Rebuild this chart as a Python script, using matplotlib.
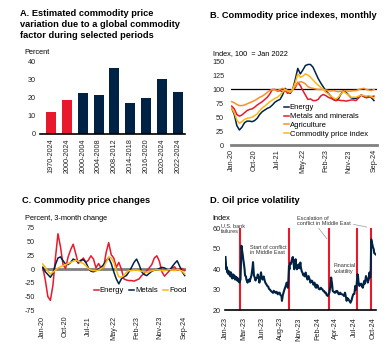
import matplotlib
matplotlib.use('Agg')
import matplotlib.pyplot as plt
import pandas as pd

plt.rcParams['font.family'] = ['Liberation Sans', 'DejaVu Sans']
plt.rcParams['axes.unicode_minus'] = False

NAVY = '#002345'
RED = '#E8192C'
ORANGE = '#F7902A'
YELLOW = '#FDB714'
GRAY = '#808080'

# Panel A: share of variation explained by global factor
periods = ['1970-2024', '2000-2024', '2000-2004', '2004-2008', '2008-2012',
           '2014-2018', '2016-2020', '2020-2024', '2022-2024']
global_share = [12.3, 18.9, 22.9, 21.5, 36.8, 17.4, 19.8, 30.4, 23.1]

# Panel B: monthly indexes, Jan-20 .. Sep-24 (100 = Jan 2022)
months = pd.date_range('2020-01-01', '2024-09-01', freq='MS')
energy_idx = [66, 55, 35, 27, 32, 40, 43, 43, 42, 44, 48, 55, 60, 63, 66, 68, 72, 77, 80,
              82, 90, 102, 98, 93, 100, 118, 138, 128, 135, 143, 145, 145, 140, 130, 120,
              112, 105, 98, 93, 88, 82, 80, 83, 92, 98, 95, 90, 85, 84, 84, 87, 90, 87,
              86, 88, 85, 80]
metals_idx = [70, 65, 55, 52, 54, 58, 62, 64, 65, 68, 72, 75, 78, 82, 86, 92, 100, 100,
              97, 98, 96, 99, 93, 95, 100, 103, 113, 107, 98, 90, 82, 83, 80, 80, 82, 88,
              91, 89, 86, 84, 82, 80, 81, 80, 80, 79, 80, 81, 81, 80, 85, 90, 88, 85, 86,
              87, 88]
agri_idx = [78, 76, 73, 71, 71, 72, 74, 76, 78, 80, 83, 86, 88, 91, 95, 98, 100, 99, 98,
            100, 102, 100, 98, 97, 100, 106, 112, 114, 113, 110, 105, 103, 102, 101, 100,
            100, 100, 99, 98, 97, 98, 97, 96, 97, 97, 98, 97, 97, 98, 98, 100, 101, 102,
            100, 99, 98, 100]
cpi_idx = [66, 58, 45, 39, 42, 46, 48, 49, 50, 53, 56, 62, 67, 70, 74, 78, 81, 84, 86,
           90, 95, 100, 97, 95, 100, 112, 128, 122, 124, 128, 126, 122, 117, 112, 108,
           104, 100, 95, 92, 88, 85, 83, 86, 92, 96, 93, 90, 86, 86, 86, 88, 90, 89, 88,
           89, 87, 84]

# Panel C: 3-month percent change
energy_chg = [3, -20, -50, -57, -30, 20, 64, 40, 8, 1, 22, 35, 45, 28, 10, 14, 20, 12, 16,
              24, 18, 2, 10, 2, 3, 30, 48, 26, 20, 3, 12, 0, -18, -20, -21, -21, -22, -20,
              -18, -12, -8, -3, 2, 8, 20, 24, 14, -5, -13, -8, -3, 2, 4, -2, 0, 1, -3]
metals_chg = [3, -5, -10, -15, -8, 8, 20, 22, 15, 9, 8, 12, 18, 16, 12, 16, 17, 12, 2, -4,
              -5, -3, 0, 3, 8, 15, 20, 10, -5, -18, -27, -18, -14, -12, -5, 3, 12, 18, 8,
              -5, -10, -12, -8, -4, -2, -1, 1, 3, 2, -1, -2, 4, 10, 15, 5, -5, -12]
food_chg = [9, 3, -4, -9, -6, -2, 2, 4, 6, 8, 10, 12, 14, 16, 14, 12, 10, 6, 1, -2, -3, -3,
            -2, 1, 3, 12, 22, 20, 12, -3, -14, -15, -12, -6, -3, -3, -2, -2, -3, -4, -5,
            -6, -5, -3, -2, -1, -2, -3, -3, -2, -1, -2, -3, -1, -2, -4, -9]
month_ticks = [0, 9, 18, 28, 37, 46, 56]
month_labels = ['Jan-20', 'Oct-20', 'Jul-21', 'May-22', 'Feb-23', 'Nov-23', 'Sep-24']

# Panel D: oil price volatility index
oil_dates = [
    '2023-01-03', '2023-01-05', '2023-01-06', '2023-01-09', '2023-01-11', '2023-01-13',
    '2023-01-17', '2023-01-19', '2023-01-23', '2023-01-25', '2023-01-27', '2023-01-31',
    '2023-02-02', '2023-02-06', '2023-02-08', '2023-02-10', '2023-02-14', '2023-02-16',
    '2023-02-20', '2023-02-22', '2023-02-24', '2023-02-28', '2023-03-02', '2023-03-06',
    '2023-03-08', '2023-03-10', '2023-03-13', '2023-03-14', '2023-03-16', '2023-03-20',
    '2023-03-22', '2023-03-24', '2023-03-28', '2023-03-30', '2023-04-03', '2023-04-05',
    '2023-04-10', '2023-04-12', '2023-04-17', '2023-04-19', '2023-04-24', '2023-04-27',
    '2023-05-02', '2023-05-04', '2023-05-08', '2023-05-10', '2023-05-15', '2023-05-17',
    '2023-05-22', '2023-05-25', '2023-05-30', '2023-06-01', '2023-06-05', '2023-06-08',
    '2023-06-12', '2023-06-15', '2023-06-20', '2023-06-23', '2023-06-27', '2023-06-30',
    '2023-07-05', '2023-07-10', '2023-07-13', '2023-07-18', '2023-07-21', '2023-07-26',
    '2023-07-31', '2023-08-03', '2023-08-08', '2023-08-11', '2023-08-16', '2023-08-21',
    '2023-08-24', '2023-08-29', '2023-09-01', '2023-09-06', '2023-09-08', '2023-09-12',
    '2023-09-15', '2023-09-20', '2023-09-25', '2023-09-29', '2023-10-04', '2023-10-06',
    '2023-10-09', '2023-10-11', '2023-10-13', '2023-10-17', '2023-10-20', '2023-10-24',
    '2023-10-26', '2023-10-30', '2023-11-01', '2023-11-03', '2023-11-07', '2023-11-09',
    '2023-11-13', '2023-11-16', '2023-11-20', '2023-11-23', '2023-11-28', '2023-11-30',
    '2023-12-04', '2023-12-07', '2023-12-11', '2023-12-14', '2023-12-18', '2023-12-21',
    '2023-12-27', '2023-12-29', '2024-01-03', '2024-01-08', '2024-01-11', '2024-01-16',
    '2024-01-19', '2024-01-24', '2024-01-29', '2024-02-01', '2024-02-05', '2024-02-08',
    '2024-02-13', '2024-02-16', '2024-02-21', '2024-02-26', '2024-02-29', '2024-03-04',
    '2024-03-07', '2024-03-11', '2024-03-14', '2024-03-19', '2024-03-22', '2024-03-27',
    '2024-03-29', '2024-04-03', '2024-04-08', '2024-04-11', '2024-04-15', '2024-04-18',
    '2024-04-23', '2024-04-26', '2024-04-30', '2024-05-03', '2024-05-08', '2024-05-13',
    '2024-05-16', '2024-05-21', '2024-05-24', '2024-05-29', '2024-06-03', '2024-06-06',
    '2024-06-11', '2024-06-14', '2024-06-18', '2024-06-21', '2024-06-26', '2024-07-01',
    '2024-07-05', '2024-07-10', '2024-07-12', '2024-07-17', '2024-07-22', '2024-07-26',
    '2024-07-30', '2024-08-05', '2024-08-07', '2024-08-09', '2024-08-13', '2024-08-16',
    '2024-08-21', '2024-08-23', '2024-08-28', '2024-09-03', '2024-09-06', '2024-09-11',
    '2024-09-16', '2024-09-19', '2024-09-23', '2024-09-26', '2024-09-30', '2024-10-02',
    '2024-10-04', '2024-10-07', '2024-10-09', '2024-10-11', '2024-10-15', '2024-10-17',
    '2024-10-21', '2024-10-23']
oil_vol = [
    46, 43, 40, 41, 38.5, 39.5,
    37.5, 39, 38, 36.5, 38.5, 37,
    35.5, 37.5, 36, 37, 35, 36.5,
    35, 36, 34.5, 35.5, 34, 33.5,
    34.5, 35, 46, 51.5, 50, 47,
    45, 43.5, 40, 37, 36.5, 35,
    33.5, 34.5, 35, 34, 36, 37,
    41, 43.5, 37, 36.5, 34.5, 35.5,
    36, 37.5, 35, 33.5, 36, 38.5,
    35.5, 35, 36.5, 35, 33.5, 33,
    32, 31.5, 30.5, 30, 29.5, 29,
    28.5, 29.5, 29, 28.5, 29, 27.8,
    28.5, 28.6, 27.5, 27, 24.6, 27.5,
    28.6, 30.5, 32, 33.5, 31, 34,
    41.5, 40, 43, 42.5, 44, 45.7,
    46, 42, 40, 41.5, 44.9, 42,
    40, 41.5, 42.4, 40.5, 43.3, 41,
    39, 38.4, 37, 37.6, 36.5, 38.4,
    36, 35, 36.7, 35, 33.5, 34.5,
    34.3, 32.5, 33.5, 31.5, 31, 32.5,
    31.9, 30.5, 30.2, 31, 30.5, 30.2,
    29.5, 29.4, 28.6, 28.6, 27.5, 27,
    27.5, 28.5, 31.9, 36, 33, 29.4,
    29, 28.6, 28.6, 29.4, 29.4, 28,
    27.8, 28.6, 28, 27.8, 27.5, 27,
    28.6, 27, 24.6, 26, 25.4, 24.5,
    23.7, 25, 26, 27.8, 28, 31.9,
    30, 37.6, 36.7, 34, 31.9, 32.5,
    33, 32, 31, 34.3, 33, 36.7,
    35, 33.5, 35, 38.4, 36, 40,
    54.6, 53, 52.2, 51, 49.8, 48,
    47.5, 47.3]
event_dates = ['2023-03-10', '2023-10-07', '2024-04-01', '2024-08-02', '2024-10-01']
oil_tick_dates = ['2023-01-03', '2023-03-24', '2023-06-14', '2023-09-01', '2023-11-22',
                  '2024-02-11', '2024-04-30', '2024-07-24', '2024-10-11']
oil_tick_labels = ['Jan-23', 'Mar-23', 'Jun-23', 'Aug-23', 'Nov-23', 'Feb-24', 'Apr-24',
                   'Jul-24', 'Oct-24']

W, H = 390, 353
fig = plt.figure(figsize=(W / 100, H / 100), dpi=100)


def add_ax(left, top, right, bottom):
    return fig.add_axes([left / W, 1 - bottom / H, (right - left) / W, (bottom - top) / H])


def ftext(x, y, s, **kw):
    fig.text(x / W, 1 - y / H, s, **kw)


def clean(ax):
    for s in ax.spines.values():
        s.set_visible(False)
    ax.tick_params(length=0, labelsize=5.2, colors='#222222')


TFS = 6.7  # title size
LFS = 5.3  # unit label size

# ---------- A ----------
axA = add_ax(40, 62, 185, 134)
clean(axA)
axA.bar(range(len(periods)), global_share, width=0.63,
        color=[RED, RED] + [NAVY] * 7)
axA.set_ylim(0, 40)
axA.set_yticks(range(0, 41, 10))
axA.set_xlim(-0.7, 8.45)
axA.set_xticks(range(len(periods)))
axA.set_xticklabels(periods, rotation=90)
axA.spines['bottom'].set_visible(True)
axA.spines['bottom'].set_color('black')
axA.spines['bottom'].set_linewidth(1.2)
axA.tick_params(axis='y', pad=3)
axA.tick_params(axis='x', pad=3)
ftext(20, 9, 'A. Estimated commodity price\nvariation due to a global commodity\nfactor during selected periods',
      fontsize=TFS, fontweight='bold', va='top', linespacing=1.25)
ftext(24, 53, 'Percent', fontsize=LFS, va='center')

# ---------- B ----------
axB = add_ax(231, 61.7, 377, 145)
clean(axB)
x = range(len(months))
axB.axhline(100, color='black', lw=0.9, zorder=1)
axB.plot(x, energy_idx, color=NAVY, lw=1.1, label='Energy')
axB.plot(x, metals_idx, color=RED, lw=1.1, label='Metals and minerals')
axB.plot(x, agri_idx, color=ORANGE, lw=1.1, label='Agriculture')
axB.plot(x, cpi_idx, color=YELLOW, lw=1.1, label='Commodity price index')
axB.set_ylim(0, 150)
axB.set_yticks(range(0, 151, 25))
axB.set_xlim(-0.3, 57.2)
axB.set_xticks(month_ticks)
axB.set_xticklabels(month_labels, rotation=90)
axB.spines['bottom'].set_visible(True)
axB.spines['bottom'].set_color(GRAY)
axB.spines['bottom'].set_linewidth(2)
axB.tick_params(axis='y', pad=5)
axB.tick_params(axis='x', pad=3)
axB.legend(loc='upper left', bbox_to_anchor=(284 / W, 1 - 104 / H),
           bbox_transform=fig.transFigure, frameon=False, fontsize=5.5,
           handlelength=0.6, handletextpad=0.15, labelspacing=0.2, borderpad=0,
           borderaxespad=0)
ftext(210, 15, 'B. Commodity price indexes, monthly', fontsize=TFS,
      fontweight='bold', va='center')
ftext(213, 54, 'Index, 100  = Jan 2022', fontsize=LFS, va='center')

# ---------- C ----------
axC = add_ax(42, 227.7, 186, 310.3)
clean(axC)
axC.axhline(0, color=GRAY, lw=2, zorder=1)
axC.plot(x, energy_chg, color=RED, lw=1.1, label='Energy')
axC.plot(x, metals_chg, color=NAVY, lw=1.1, label='Metals')
axC.plot(x, food_chg, color=YELLOW, lw=1.1, label='Food')
axC.set_ylim(-75, 75)
axC.set_yticks(range(-75, 76, 25))
axC.set_xlim(-0.3, 56.5)
axC.set_xticks(month_ticks)
axC.set_xticklabels(month_labels, rotation=90)
axC.tick_params(axis='y', pad=5)
axC.tick_params(axis='x', pad=4)
axC.legend(loc='upper left', bbox_to_anchor=(94 / W, 1 - 287 / H),
           bbox_transform=fig.transFigure, frameon=False, fontsize=5.5, ncol=3,
           handlelength=0.6, handletextpad=0.15, columnspacing=0.7, borderpad=0,
           borderaxespad=0)
ftext(22, 201, 'C. Commodity price changes', fontsize=TFS, fontweight='bold', va='center')
ftext(25, 219, 'Percent, 3-month change', fontsize=LFS, va='center')

# ---------- D ----------
axD = add_ax(225, 228.3, 376, 310.3)
clean(axD)
dates = pd.to_datetime(oil_dates)
for d in event_dates:
    axD.axvline(pd.Timestamp(d), color=RED, lw=1.5, zorder=1)
axD.plot(dates, oil_vol, color=NAVY, lw=1.5, zorder=2)
axD.set_ylim(20, 60)
axD.set_yticks(range(20, 61, 10))
axD.set_xlim(pd.Timestamp('2023-01-01'), pd.Timestamp('2024-10-25'))
axD.set_xticks(pd.to_datetime(oil_tick_dates))
axD.set_xticklabels(oil_tick_labels, rotation=90)
axD.spines['bottom'].set_visible(True)
axD.spines['bottom'].set_color('black')
axD.spines['bottom'].set_linewidth(1.2)
axD.tick_params(axis='y', pad=3)
axD.tick_params(axis='x', pad=5)
lead = dict(arrowstyle='-', color='#9a9a9a', lw=0.5)
axD.annotate('', xy=(pd.Timestamp('2024-03-31'), 53.8),
             xytext=(pd.Timestamp('2024-02-09'), 61.1), arrowprops=lead,
             annotation_clip=False)
axD.annotate('', xy=(pd.Timestamp('2024-09-27'), 60.3),
             xytext=(pd.Timestamp('2024-07-06'), 62.2), arrowprops=lead,
             annotation_clip=False)
AFS = 4.0
ftext(221, 229, 'U.S. bank\nfailures', fontsize=AFS, va='center', color='#333333',
      linespacing=1.15)
ftext(250, 250, 'Start of conflict\nin Middle East', fontsize=AFS, va='center',
      color='#333333', linespacing=1.15)
ftext(297, 221, 'Escalation of\nconflict in Middle East', fontsize=AFS, va='center',
      color='#333333', linespacing=1.15)
ftext(334, 268.5, 'Financial\nvolatility', fontsize=AFS, va='center', color='#333333',
      linespacing=1.15)
ftext(210, 201, 'D. Oil price volatility', fontsize=TFS, fontweight='bold', va='center')
ftext(212, 219, 'Index', fontsize=LFS, va='center')

fig.savefig('out.png', dpi=100)
